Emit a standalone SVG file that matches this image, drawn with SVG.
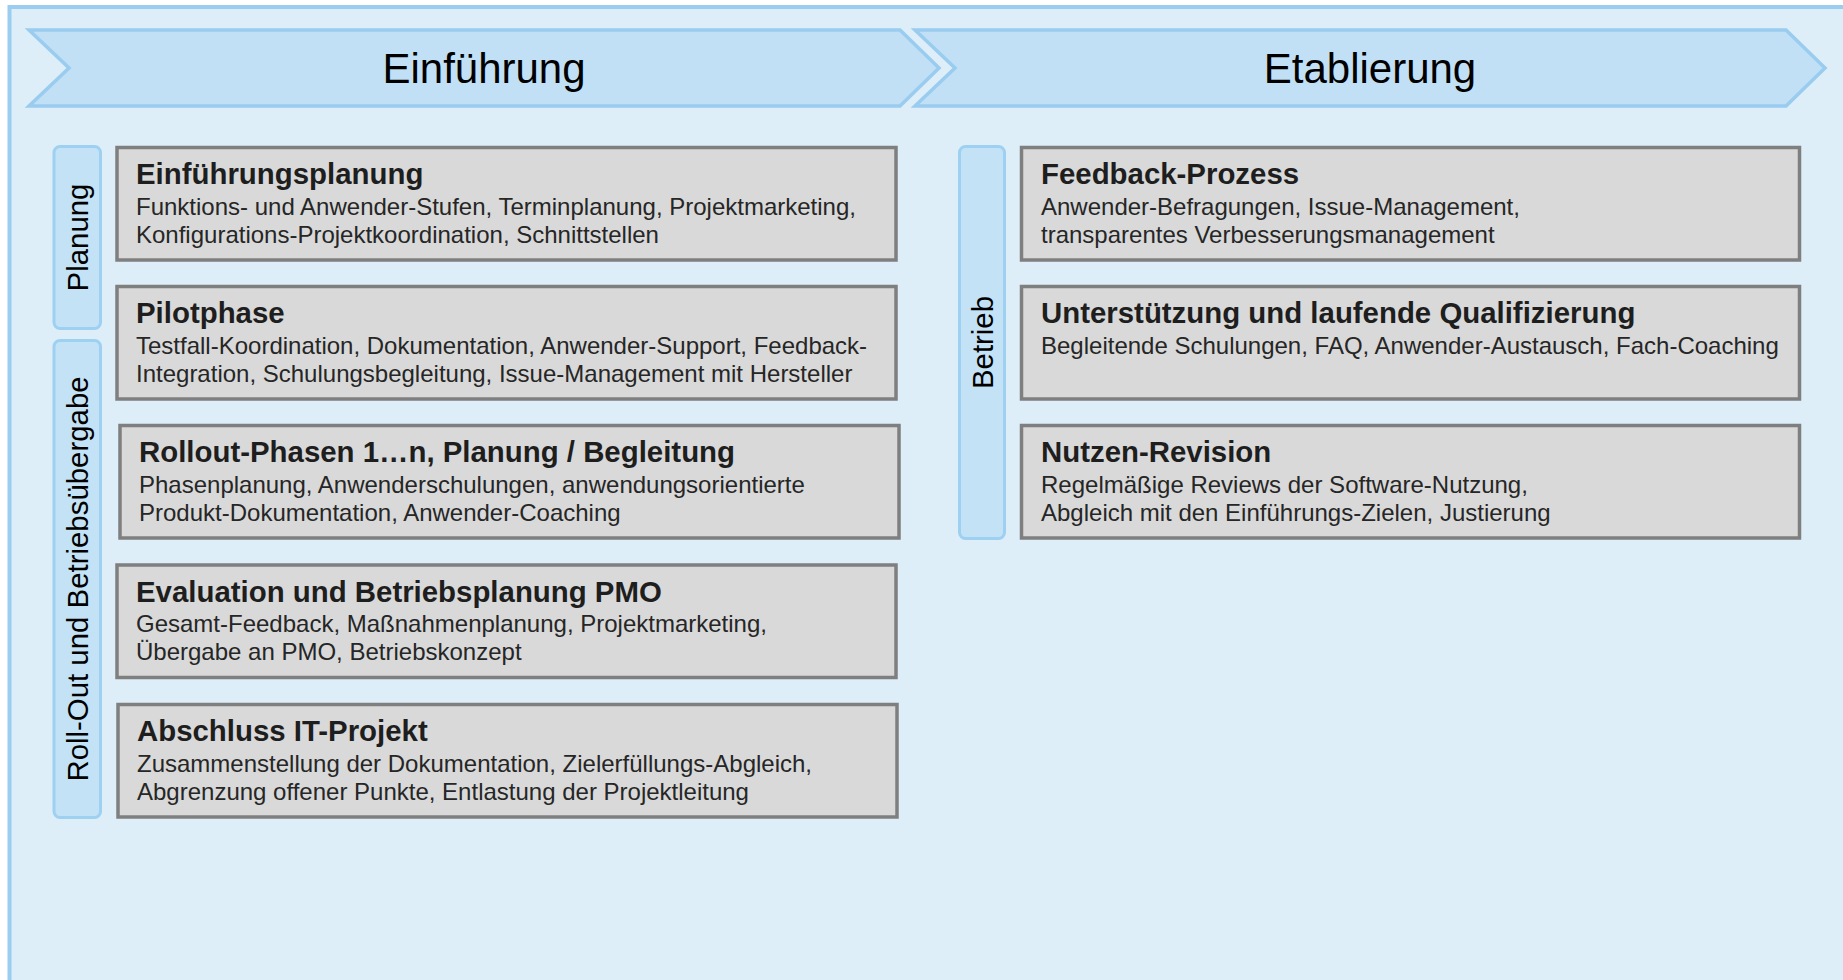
<svg xmlns="http://www.w3.org/2000/svg" width="1843" height="980" viewBox="0 0 1843 980">
<style>
.frame{fill:#ddeef9;stroke:#9acdf0;stroke-width:4}
.chev{fill:#c1e0f5;stroke:#99ccef;stroke-width:3.5}
.tab{fill:#c3e2f6;stroke:#9ed0f2;stroke-width:3}
.box{fill:#d9d9d9;stroke:#7f7f7f;stroke-width:3.5}
.hd{font-family:"Liberation Sans",Arial,sans-serif;font-size:42px;fill:#000;text-anchor:middle}
.tt{font-family:"Liberation Sans",Arial,sans-serif;font-size:29.4px;font-weight:bold;fill:#1e1e1e}
.bd{font-family:"Liberation Sans",Arial,sans-serif;font-size:24px;fill:#262626}
.tb{font-family:"Liberation Sans",Arial,sans-serif;font-size:29.4px;fill:#000;text-anchor:middle}
</style>
<rect class="frame" x="9.5" y="7" width="1900" height="1000"/>
<g id="phase-einfuehrung">
<polygon class="chev" points="29,30 900,30 939,68 900,106 29,106 69,68"/>
<text class="hd" x="484" y="83">Einführung</text>
</g>
<g id="phase-etablierung">
<polygon class="chev" points="915,30 1786,30 1825,68 1786,106 915,106 955,68"/>
<text class="hd" x="1370" y="83">Etablierung</text>
</g>
<g id="tab-planung">
<rect class="tab" x="54" y="146.5" width="46.5" height="182" rx="6"/>
<text class="tb" transform="translate(88,237.5) rotate(-90)">Planung</text>
</g>
<g id="tab-rollout">
<rect class="tab" x="54" y="340.5" width="46.5" height="477" rx="6"/>
<text class="tb" transform="translate(88,579) rotate(-90)">Roll-Out und Betriebsübergabe</text>
</g>
<g id="tab-betrieb">
<rect class="tab" x="959.5" y="146.5" width="45" height="392" rx="6"/>
<text class="tb" transform="translate(993,342.5) rotate(-90)">Betrieb</text>
</g>
<g id="box-einfuehrungsplanung">
<rect class="box" x="117" y="147.5" width="779" height="112.5"/>
<text class="tt" x="136" y="184">Einführungsplanung</text>
<text class="bd" x="136" y="214.5">Funktions- und Anwender-Stufen, Terminplanung, Projektmarketing,</text>
<text class="bd" x="136" y="242.5">Konfigurations-Projektkoordination, Schnittstellen</text>
</g>
<g id="box-pilotphase">
<rect class="box" x="117" y="286.5" width="779" height="112.5"/>
<text class="tt" x="136" y="323">Pilotphase</text>
<text class="bd" x="136" y="353.5">Testfall-Koordination, Dokumentation, Anwender-Support, Feedback-</text>
<text class="bd" x="136" y="381.5">Integration, Schulungsbegleitung, Issue-Management mit Hersteller</text>
</g>
<g id="box-rollout">
<rect class="box" x="120" y="425.5" width="779" height="112.5"/>
<text class="tt" x="139" y="462">Rollout-Phasen 1…n, Planung / Begleitung</text>
<text class="bd" x="139" y="492.5">Phasenplanung, Anwenderschulungen, anwendungsorientierte</text>
<text class="bd" x="139" y="520.5">Produkt-Dokumentation, Anwender-Coaching</text>
</g>
<g id="box-evaluation">
<rect class="box" x="117" y="565" width="779" height="112.5"/>
<text class="tt" x="136" y="601.5">Evaluation und Betriebsplanung PMO</text>
<text class="bd" x="136" y="632">Gesamt-Feedback, Maßnahmenplanung, Projektmarketing,</text>
<text class="bd" x="136" y="660">Übergabe an PMO, Betriebskonzept</text>
</g>
<g id="box-abschluss">
<rect class="box" x="118" y="704.5" width="779" height="112.5"/>
<text class="tt" x="137" y="741">Abschluss IT-Projekt</text>
<text class="bd" x="137" y="771.5">Zusammenstellung der Dokumentation, Zielerfüllungs-Abgleich,</text>
<text class="bd" x="137" y="799.5">Abgrenzung offener Punkte, Entlastung der Projektleitung</text>
</g>
<g id="box-feedback">
<rect class="box" x="1021.5" y="147.5" width="778" height="112.5"/>
<text class="tt" x="1041" y="184">Feedback-Prozess</text>
<text class="bd" x="1041" y="214.5">Anwender-Befragungen, Issue-Management,</text>
<text class="bd" x="1041" y="242.5">transparentes Verbesserungsmanagement</text>
</g>
<g id="box-unterstuetzung">
<rect class="box" x="1021.5" y="286.5" width="778" height="112.5"/>
<text class="tt" x="1041" y="323">Unterstützung und laufende Qualifizierung</text>
<text class="bd" x="1041" y="353.5">Begleitende Schulungen, FAQ, Anwender-Austausch, Fach-Coaching</text>
</g>
<g id="box-nutzen">
<rect class="box" x="1021.5" y="425.5" width="778" height="112.5"/>
<text class="tt" x="1041" y="462">Nutzen-Revision</text>
<text class="bd" x="1041" y="492.5">Regelmäßige Reviews der Software-Nutzung,</text>
<text class="bd" x="1041" y="520.5">Abgleich mit den Einführungs-Zielen, Justierung</text>
</g>
<g id="connectors"></g>
</svg>
